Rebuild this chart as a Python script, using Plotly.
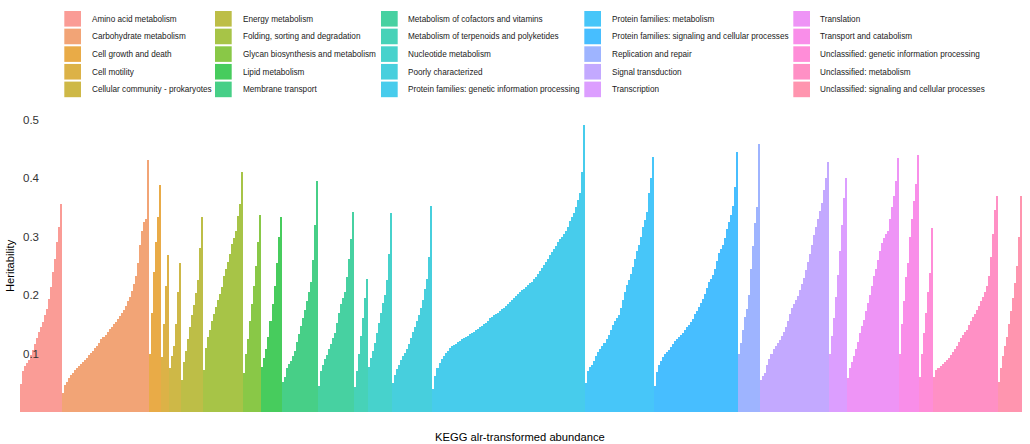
import math
import plotly.graph_objects as go

# KEGG level-2 categories (legend order)
categories = [
    "Amino acid metabolism",
    "Carbohydrate metabolism",
    "Cell growth and death",
    "Cell motility",
    "Cellular community - prokaryotes",
    "Energy metabolism",
    "Folding, sorting and degradation",
    "Glycan biosynthesis and metabolism",
    "Lipid metabolism",
    "Membrane transport",
    "Metabolism of cofactors and vitamins",
    "Metabolism of terpenoids and polyketides",
    "Nucleotide metabolism",
    "Poorly characterized",
    "Protein families: genetic information processing",
    "Protein families: metabolism",
    "Protein families: signaling and cellular processes",
    "Replication and repair",
    "Signal transduction",
    "Transcription",
    "Translation",
    "Transport and catabolism",
    "Unclassified: genetic information processing",
    "Unclassified: metabolism",
    "Unclassified: signaling and cellular processes",
]

# Heritability of each feature, sorted ascending within its category
amino_acid = [0.048, 0.07, 0.078, 0.084, 0.089, 0.097, 0.106, 0.116, 0.127, 0.137, 0.146,
              0.154, 0.165, 0.176, 0.193, 0.213, 0.24, 0.262, 0.29, 0.317, 0.356]
carbohydrate = [0.032, 0.046, 0.052, 0.058, 0.063, 0.067, 0.071, 0.075, 0.078, 0.082, 0.085,
                0.089, 0.093, 0.097, 0.101, 0.105, 0.109, 0.113, 0.118, 0.124, 0.128, 0.132,
                0.137, 0.142, 0.146, 0.150, 0.154, 0.159, 0.164, 0.169, 0.175, 0.181, 0.189,
                0.197, 0.207, 0.218, 0.232, 0.255, 0.285, 0.31, 0.325, 0.33, 0.43]
cell_growth = [0.10, 0.17, 0.24, 0.29, 0.333, 0.388]
cell_motility = [0.094, 0.15, 0.215, 0.268]
cellular_community = [0.075, 0.095, 0.112, 0.15, 0.205, 0.255]
energy = [0.055, 0.085, 0.105, 0.125, 0.145, 0.165, 0.183, 0.203, 0.225, 0.28, 0.333]
folding = [0.072, 0.11, 0.128, 0.14, 0.155, 0.168, 0.18, 0.192, 0.202, 0.214, 0.232,
           0.245, 0.256, 0.27, 0.287, 0.298, 0.31, 0.335, 0.355, 0.41]
glycan = [0.066, 0.1, 0.125, 0.155, 0.185, 0.215, 0.25, 0.29, 0.337]
lipid = [0.077, 0.092, 0.108, 0.128, 0.155, 0.185, 0.215, 0.255, 0.30, 0.333]
membrane = [0.052, 0.06, 0.075, 0.082, 0.088, 0.095, 0.105, 0.12, 0.133, 0.147, 0.16,
            0.175, 0.19, 0.205, 0.222, 0.26, 0.32, 0.395]
cofactors = [0.045, 0.07, 0.08, 0.09, 0.098, 0.107, 0.116, 0.126, 0.135, 0.152, 0.17,
             0.185, 0.195, 0.205, 0.23, 0.262, 0.295, 0.342]
terpenoids = [0.043, 0.07, 0.10, 0.13, 0.16, 0.195, 0.227]
nucleotide = [0.077, 0.092, 0.105, 0.118, 0.135, 0.152, 0.17, 0.186, 0.2, 0.225, 0.27, 0.34]
poorly = [0.05, 0.064, 0.073, 0.08, 0.089, 0.095, 0.101, 0.108, 0.117, 0.127, 0.136,
          0.145, 0.155, 0.165, 0.178, 0.192, 0.21, 0.228, 0.265, 0.352]
pf_genetic = [0.04, 0.062, 0.075, 0.084, 0.09, 0.096, 0.101, 0.105, 0.109, 0.112, 0.115,
              0.117, 0.119, 0.121, 0.124, 0.126, 0.128, 0.13, 0.133, 0.135, 0.137, 0.14,
              0.142, 0.145, 0.147, 0.15, 0.152, 0.156, 0.16, 0.163, 0.165, 0.168, 0.17,
              0.173, 0.176, 0.178, 0.181, 0.184, 0.188, 0.191, 0.195, 0.199, 0.202, 0.205,
              0.208, 0.211, 0.214, 0.217, 0.22, 0.223, 0.227, 0.231, 0.236, 0.241, 0.246,
              0.251, 0.256, 0.262, 0.268, 0.274, 0.279, 0.284, 0.29, 0.295, 0.3, 0.305,
              0.31, 0.317, 0.326, 0.334, 0.341, 0.35, 0.362, 0.375, 0.41, 0.49]
pf_metabolism = [0.05, 0.07, 0.077, 0.08, 0.088, 0.096, 0.103, 0.108, 0.112, 0.118, 0.125,
                 0.132, 0.14, 0.149, 0.156, 0.161, 0.165, 0.178, 0.191, 0.205, 0.217, 0.226,
                 0.236, 0.248, 0.262, 0.275, 0.286, 0.3, 0.317, 0.328, 0.342, 0.375, 0.4, 0.436]
pf_signaling = [0.045, 0.068, 0.08, 0.088, 0.094, 0.099, 0.102, 0.106, 0.111, 0.117, 0.121,
                0.125, 0.128, 0.131, 0.135, 0.141, 0.145, 0.149, 0.154, 0.159, 0.167, 0.173,
                0.18, 0.186, 0.193, 0.202, 0.212, 0.223, 0.228, 0.234, 0.245, 0.258, 0.271,
                0.278, 0.286, 0.297, 0.312, 0.325, 0.336, 0.353, 0.385, 0.444]
replication = [0.10, 0.118, 0.14, 0.163, 0.176, 0.2, 0.245, 0.283, 0.323, 0.35, 0.458]
signal_transduction = [0.055, 0.062, 0.067, 0.08, 0.09, 0.1, 0.108, 0.113, 0.118, 0.123,
                       0.13, 0.136, 0.145, 0.155, 0.167, 0.178, 0.185, 0.191, 0.198, 0.209,
                       0.219, 0.229, 0.242, 0.256, 0.27, 0.285, 0.303, 0.317, 0.33, 0.343,
                       0.357, 0.38, 0.4, 0.428]
transcription = [0.10, 0.13, 0.16, 0.197, 0.235, 0.275, 0.32, 0.365, 0.40]
translation = [0.058, 0.075, 0.085, 0.095, 0.108, 0.12, 0.135, 0.147, 0.158, 0.173, 0.186,
               0.2, 0.215, 0.232, 0.245, 0.26, 0.275, 0.289, 0.298, 0.304, 0.31, 0.33,
               0.35, 0.37, 0.395, 0.434]
transport = [0.1, 0.15, 0.19, 0.23, 0.255, 0.3, 0.33, 0.36, 0.39, 0.44]
uncl_genetic = [0.06, 0.1, 0.135, 0.17, 0.205, 0.237, 0.314]
uncl_metabolism = [0.06, 0.072, 0.075, 0.079, 0.082, 0.086, 0.089, 0.093, 0.097, 0.102,
                   0.107, 0.112, 0.12, 0.126, 0.131, 0.136, 0.141, 0.148, 0.155, 0.162,
                   0.168, 0.175, 0.182, 0.189, 0.196, 0.205, 0.216, 0.232, 0.265, 0.305,
                   0.345, 0.369]
uncl_signaling = [0.052, 0.075, 0.095, 0.112, 0.128, 0.15, 0.172, 0.195, 0.22, 0.25, 0.3, 0.37]

series = [amino_acid, carbohydrate, cell_growth, cell_motility, cellular_community, energy,
          folding, glycan, lipid, membrane, cofactors, terpenoids, nucleotide, poorly,
          pf_genetic, pf_metabolism, pf_signaling, replication, signal_transduction,
          transcription, translation, transport, uncl_genetic, uncl_metabolism, uncl_signaling]

y_tick_values = [0.1, 0.2, 0.3, 0.4, 0.5]
y_tick_labels = ["0.1", "0.2", "0.3", "0.4", "0.5"]


def hcl_to_rgb(h, c=100.0, l=65.0):
    """Polar LUV -> sRGB (same maths as R's grDevices::hcl, with clipping)."""
    hr = math.radians(h)
    U, V = c * math.cos(hr), c * math.sin(hr)
    Y = 100.0 * ((l + 16.0) / 116.0) ** 3 if l > 7.999592 else 100.0 * l / 903.3
    XN, YN, ZN = 95.047, 100.0, 108.883
    t = XN + YN + ZN
    x, y = XN / t, YN / t
    uN = 2 * x / (6 * y - x + 1.5)
    vN = 4.5 * y / (6 * y - x + 1.5)
    u = U / (13 * l) + uN
    v = V / (13 * l) + vN
    X = 9.0 * Y * u / (4 * v)
    Z = -X / 3 - 5 * Y + 3 * Y / v
    lin = [(3.240479 * X - 1.537150 * Y - 0.498535 * Z) / 100,
           (-0.969256 * X + 1.875992 * Y + 0.041556 * Z) / 100,
           (0.055648 * X - 0.204043 * Y + 1.057311 * Z) / 100]
    out = []
    for ch in lin:
        g = 1.055 * ch ** (1 / 2.4) - 0.055 if ch > 0.00304 else 12.92 * ch
        out.append(int(round(min(max(g, 0.0), 1.0) * 255)))
    return out


n_cat = len(categories)
alpha = 0.72
colors = []
for i in range(n_cat):
    r, g, b = hcl_to_rgb(15 + 360.0 * i / n_cat)
    colors.append(f"rgba({r},{g},{b},{alpha})")

fig = go.Figure()
start = 0
for name, vals, col in zip(categories, series, colors):
    xs = list(range(start, start + len(vals)))
    fig.add_trace(go.Bar(x=xs, y=vals, name=name, showlegend=False,
                         marker=dict(color=col, line=dict(width=0))))
    start += len(vals)
n_total = start

W, H = 1030, 444
ML, MR, MT, MB = 20, 8, 110, 32
plot_w = W - ML - MR
plot_h = H - MT - MB
px_per_unit = 585.0


def px_to_paper(px, py):
    return (px - ML) / plot_w, (H - MB - py) / plot_h


# Legend: 5 columns x 5 rows, filled column by column
swatch_x = [64.3, 215.0, 381.0, 584.3, 793.3]
label_x = [90.0, 241.0, 405.7, 609.7, 818.3]
row_top = 11.0
row_pitch = 17.65
swatch_w, swatch_h = 16.7, 15.6
shapes, annotations = [], []
for i, (name, col) in enumerate(zip(categories, colors)):
    c, r = divmod(i, 5)
    x0, y0 = px_to_paper(swatch_x[c], row_top + r * row_pitch)
    x1, y1 = px_to_paper(swatch_x[c] + swatch_w, row_top + r * row_pitch + swatch_h)
    shapes.append(dict(type="rect", xref="paper", yref="paper", x0=x0, x1=x1, y0=y1, y1=y0,
                       fillcolor=col, line=dict(width=0), layer="above"))
    tx, ty = px_to_paper(label_x[c], row_top + r * row_pitch + swatch_h / 2 + 0.3)
    annotations.append(dict(text=name, xref="paper", yref="paper", x=tx, y=ty,
                            xanchor="left", yanchor="middle", showarrow=False,
                            font=dict(size=8.2, color="#1a1a1a")))

tx, ty = px_to_paper(520, 437)
annotations.append(dict(text="KEGG alr-transformed abundance", xref="paper", yref="paper",
                        x=tx, y=ty, xanchor="center", yanchor="middle", showarrow=False,
                        font=dict(size=11.2, color="#000000")))
tx, ty = px_to_paper(10, 266)
annotations.append(dict(text="Heritability", xref="paper", yref="paper", x=tx, y=ty,
                        xanchor="center", yanchor="middle", showarrow=False, textangle=-90,
                        font=dict(size=11.2, color="#000000")))

fig.update_layout(
    width=W, height=H,
    margin=dict(l=ML, r=MR, t=MT, b=MB, pad=0),
    paper_bgcolor="white", plot_bgcolor="white",
    bargap=0, barmode="overlay",
    font=dict(family="Liberation Sans, Arial, sans-serif"),
    shapes=shapes, annotations=annotations,
    xaxis=dict(range=[-0.5, n_total - 0.5], showticklabels=False, showgrid=False,
               zeroline=False, showline=False, ticks=""),
    yaxis=dict(range=[0, plot_h / px_per_unit], tickvals=y_tick_values,
               ticktext=y_tick_labels, ticklabelposition="inside", ticks="",
               showgrid=False, zeroline=False, showline=False,
               tickfont=dict(size=11.5, color="#333333")),
)

fig.write_html("out.html")
